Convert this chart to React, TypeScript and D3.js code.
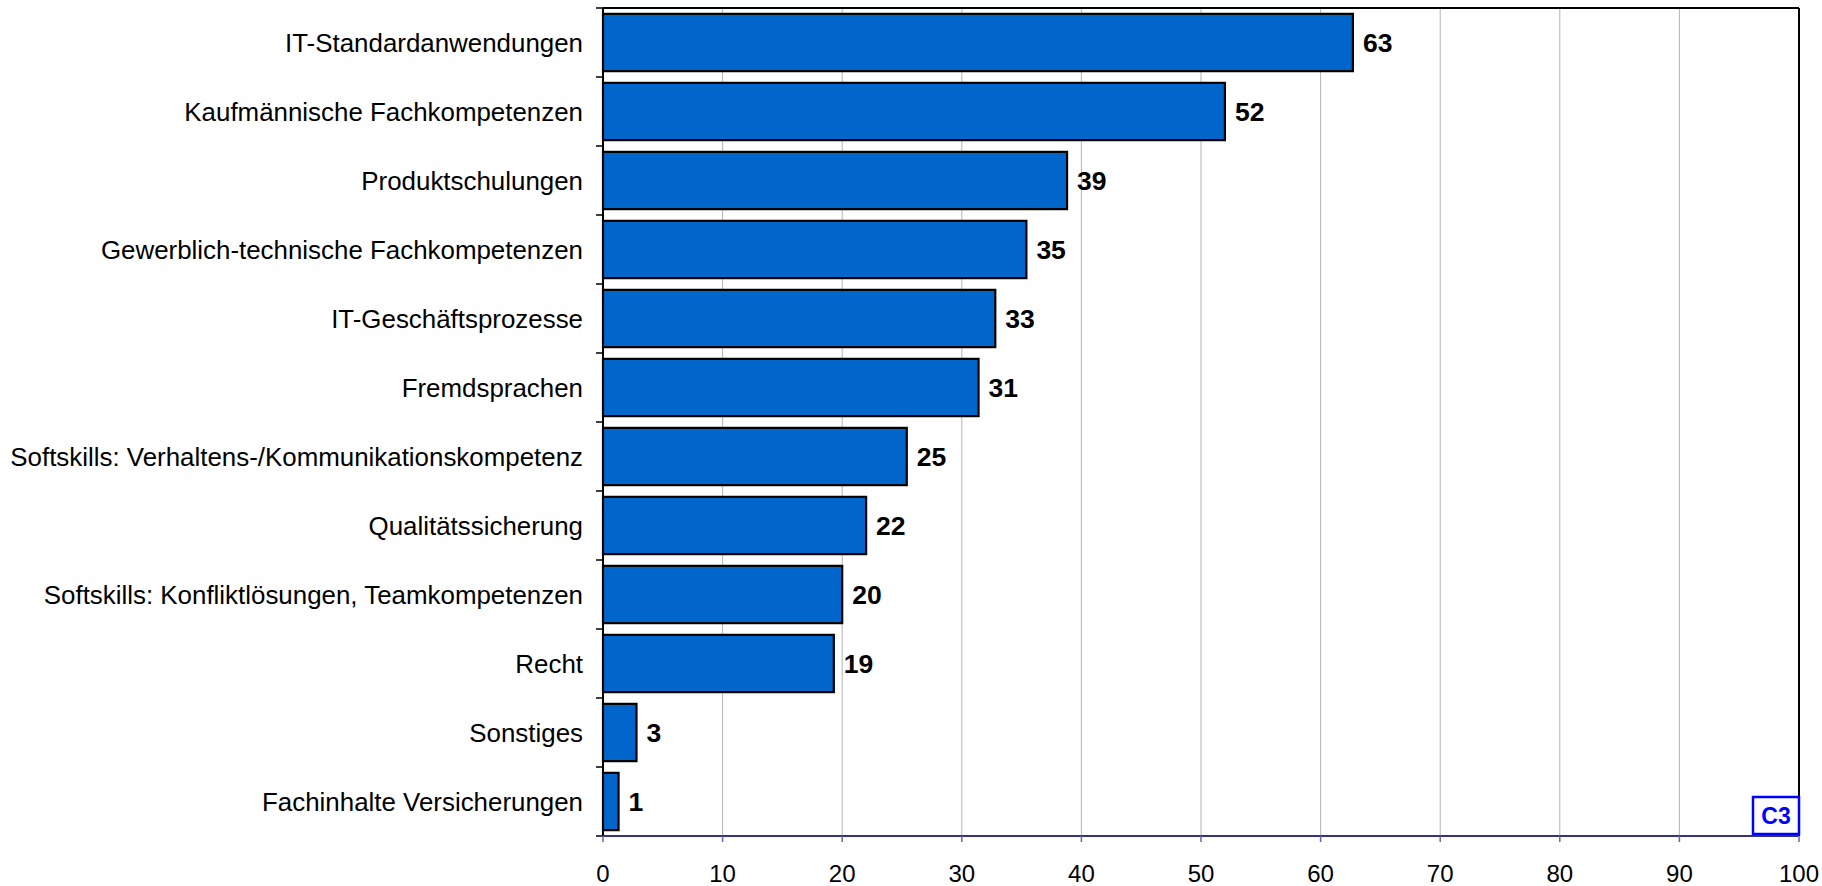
import React from "react";
import * as d3 from "d3";

const categories = [
  "IT-Standardanwendungen",
  "Kaufmännische Fachkompetenzen",
  "Produktschulungen",
  "Gewerblich-technische Fachkompetenzen",
  "IT-Geschäftsprozesse",
  "Fremdsprachen",
  "Softskills: Verhaltens-/Kommunikationskompetenz",
  "Qualitätssicherung",
  "Softskills: Konfliktlösungen, Teamkompetenzen",
  "Recht",
  "Sonstiges",
  "Fachinhalte Versicherungen",
];
const values = [62.7, 52.0, 38.8, 35.4, 32.8, 31.4, 25.4, 22.0, 20.0, 19.3, 2.8, 1.3];
const valueLabels = ["63", "52", "39", "35", "33", "31", "25", "22", "20", "19", "3", "1"];
const xTicks = [0, 10, 20, 30, 40, 50, 60, 70, 80, 90, 100];
const badge = "C3";

const W = 1822;
const H = 886;
const left = 603;
const right = 1799;
const top = 8;
const bottom = 836;
const FONT = "'Liberation Sans', Arial, sans-serif";

export default function App() {
  const x = d3.scaleLinear().domain([0, 100]).range([left, right]);
  const y = d3
    .scaleBand<string>()
    .domain(categories)
    .range([top, bottom])
    .paddingInner(0.17)
    .paddingOuter(0.085);
  const step = y.step();

  return (
    <svg
      width={W}
      height={H}
      style={{ position: "fixed", left: 0, top: 0, background: "#fff" }}
      fontFamily={FONT}
    >
      <rect x={0} y={0} width={W} height={H} fill="#fff" />
      {/* grid lines */}
      {xTicks.slice(1, -1).map((t) => (
        <line key={"g" + t} x1={x(t)} x2={x(t)} y1={top} y2={bottom} stroke="#b4b4b4" strokeWidth={1} />
      ))}
      {/* top and right border */}
      <line x1={left} x2={right} y1={top} y2={top} stroke="#000" strokeWidth={2} />
      <line x1={right} x2={right} y1={top} y2={bottom} stroke="#000" strokeWidth={2} />
      {/* bars */}
      {categories.map((c, i) => (
        <rect
          key={"b" + i}
          x={x(0)}
          y={y(c)!}
          width={x(values[i]) - x(0)}
          height={y.bandwidth()}
          fill="#0066CC"
          stroke="#000"
          strokeWidth={2.2}
        />
      ))}
      {/* value labels */}
      {categories.map((c, i) => (
        <text
          key={"v" + i}
          x={x(values[i]) + 10}
          y={y(c)! + y.bandwidth() / 2}
          dy="0.36em"
          fontSize={26.5}
          fontWeight="bold"
          fill="#000"
        >
          {valueLabels[i]}
        </text>
      ))}
      {/* category labels */}
      {categories.map((c, i) => (
        <text
          key={"c" + i}
          x={583}
          y={y(c)! + y.bandwidth() / 2}
          dy="0.36em"
          fontSize={25.9}
          textAnchor="end"
          fill="#000"
        >
          {c}
        </text>
      ))}
      {/* left axis */}
      <line x1={left} x2={left} y1={top} y2={bottom} stroke="#000" strokeWidth={2} />
      {d3.range(categories.length + 1).map((i) => (
        <line
          key={"yt" + i}
          x1={left - 7}
          x2={left}
          y1={top + i * step}
          y2={top + i * step}
          stroke="#000"
          strokeWidth={1.5}
        />
      ))}
      {/* bottom axis */}
      <line x1={left} x2={right} y1={bottom} y2={bottom} stroke="#333380" strokeWidth={2} />
      {xTicks.map((t) => (
        <g key={"xt" + t}>
          <line x1={x(t)} x2={x(t)} y1={bottom} y2={bottom + 6} stroke="#6666aa" strokeWidth={1.5} />
          <text x={x(t)} y={882} fontSize={24} textAnchor="middle" fill="#000">
            {t}
          </text>
        </g>
      ))}
      {/* badge */}
      <rect x={1753} y={797} width={46} height={37} fill="#fff" stroke="#0000ff" strokeWidth={2.5} />
      <text x={1776} y={824} fontSize={23} fontWeight="bold" textAnchor="middle" fill="#0000ff">
        {badge}
      </text>
    </svg>
  );
}
